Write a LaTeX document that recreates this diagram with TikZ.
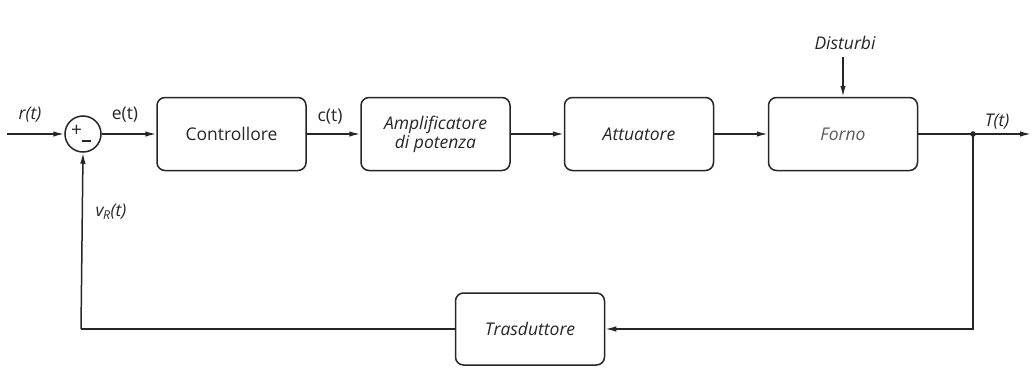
\documentclass[tikz,border=0pt]{standalone}
\usepackage{fontspec}
\setmainfont{Open Sans}
\usetikzlibrary{arrows.meta}
\definecolor{ink}{HTML}{262626}
\begin{document}
\begin{tikzpicture}[x=1pt,y=-1pt,
  every node/.style={font=\fontsize{17.5}{20}\selectfont, text=ink},
  blk/.style={draw=ink, line width=1.5pt, rounded corners=8pt, minimum width=149pt, minimum height=73pt, align=center, inner sep=2pt},
  sig/.style={draw=ink, line width=1.5pt, -{Latex[length=11pt,width=5.5pt]}},
  wire/.style={draw=ink, line width=1.5pt},
  lbl/.style={inner sep=0pt}]
\useasboundingbox (0,0) rectangle (1033,372);
% summing junction
\node[draw=ink, line width=1.5pt, circle, minimum size=36pt, inner sep=0pt] (sum) at (83,134) {};
\node[lbl, font=\fontsize{19}{19}\selectfont] (plus) at (76.5,131) {+};
\node[lbl] (minus) at (86,141) {\rule{9pt}{1.4pt}};
% blocks
\node[blk] (ctrl) at (231.5,134) {Controllore};
\node[blk] (amp) at (435.5,134) {\itshape Amplificatore\\[-1pt]\itshape di potenza};
\node[blk] (att) at (639,134) {\itshape Attuatore};
\node[blk, text=ink!75] (forno) at (843,134) {\itshape Forno};
\node[blk, minimum height=72pt] (tras) at (530,329) {\itshape Trasduttore};
% coordinates
\coordinate (in) at (7,134);
\coordinate (out) at (1031,134);
\coordinate (junc) at (973,134);
\coordinate (fbr) at (973,329);
\coordinate (fbl) at (81,329);
\coordinate (dtop) at (843,57);
% labels
\node[lbl] (rl) at (30,115) {\itshape r(t)};
\node[lbl] (el) at (125,115) {e(t)};
\node[lbl] (cl) at (330,117) {c(t)};
\node[lbl] (dl) at (845,43) {\itshape Disturbi};
\node[lbl] (tl) at (997,122) {\itshape T(t)};
\node[lbl] (vl) at (111,212) {\itshape v\textsubscript{\kern-0.5pt R}(t)};
% connectors
\draw[sig] (in) -- (sum.west);
\draw[sig] (sum.east) -- (ctrl.west);
\draw[sig] (ctrl.east) -- (amp.west);
\draw[sig] (amp.east) -- (att.west);
\draw[sig] (att.east) -- (forno.west);
\draw[sig] (dtop) -- (forno.north);
\draw[sig] (forno.east) -- (out);
\fill[ink] (junc) circle (2.8pt);
\draw[sig] (junc) -- (fbr) -- (tras.east);
\draw[wire] (tras.west) -- (fbl);
\draw[sig] (fbl) -- (sum.south);
\end{tikzpicture}
\end{document}
